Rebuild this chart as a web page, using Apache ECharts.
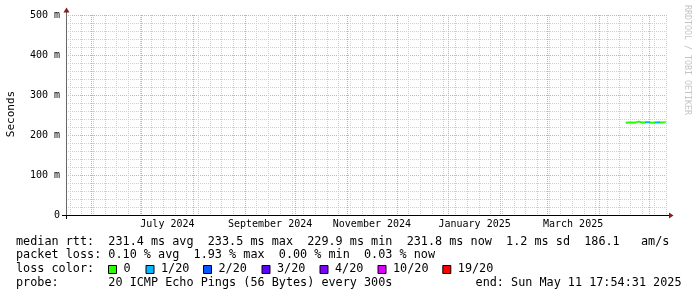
<!DOCTYPE html>
<html>
<head>
<meta charset="utf-8">
<script src="https://cdn.jsdelivr.net/npm/echarts@6/dist/echarts.min.js"></script>
<style>
html,body{margin:0;padding:0;background:#fff;}
#chart{width:697px;height:297px;}
</style>
</head>
<body>
<div id="chart"></div>
<script>
// ---------------- data ----------------
const endTime = '2025-05-11T17:54:31';
const spanDays = 360;
const firstDay = '2025-04-17';
// daily median rtt (ms), Apr 17 .. May 11 2025
const medianRtt = [230.6, 229.9, 231.0, 232.4, 231.2, 230.8, 231.5, 231.0, 233.5, 231.6,
                   230.9, 231.2, 231.8, 231.4, 232.0, 231.1, 230.7, 231.5, 231.3, 232.1,
                   231.6, 231.0, 231.4, 231.9, 231.8];
// daily lost pings (out of 20)
const lossCount = [0,0,0,0,0,0,0,0,0,0,0,0,1,1,1,0,0,0,1,1,1,0,0,0,0];
const yTicks = [0, 100, 200, 300, 400, 500];
const xLabels = ['July 2024', 'September 2024', 'November 2024', 'January 2025', 'March 2025'];
const xLabelDates = ['2024-07-16T12:00:00', '2024-09-16T00:00:00', '2024-11-16T00:00:00', '2025-01-16T12:00:00', '2025-03-16T12:00:00'];
const monthLines = ['2024-06-01','2024-07-01','2024-08-01','2024-09-01','2024-10-01','2024-11-01',
                    '2024-12-01','2025-01-01','2025-02-01','2025-03-01','2025-04-01','2025-05-01'];
const firstSunday = '2024-05-19';
const lossLabels = ['0', '1/20', '2/20', '3/20', '4/20', '10/20', '19/20'];
const lossLevels = [0, 1, 2, 3, 4, 10, 19];
const lossColors = ['#26ff00', '#00b8ff', '#0059ff', '#5e00ff', '#7e00ff', '#dd00ff', '#ff0000'];
const legendRows = [
  'median rtt:  231.4 ms avg  233.5 ms max  229.9 ms min  231.8 ms now  1.2 ms sd  186.1   am/s',
  'packet loss: 0.10 % avg  1.93 % max  0.00 % min  0.03 % now',
  'loss color:',
  'probe:       20 ICMP Echo Pings (56 Bytes) every 300s'
];
const endText = 'end: Sun May 11 17:54:31 2025';
const yTitle = 'Seconds';
const watermark = 'RRDTOOL / TOBI OETIKER';

// ---------------- helpers ----------------
const DAY = 86400000;
const ts = s => Date.parse(s + (s.length === 10 ? 'T00:00:00Z' : 'Z'));
const END = ts(endTime);
const START = END - spanDays * DAY;
const day0 = ts(firstDay);
const lineData = medianRtt.map((v, i) => [day0 + i * DAY, v]);
const labelTimes = xLabelDates.map(ts);

function lossColor(n) {
  let c = lossColors[0];
  for (let k = 0; k < lossLevels.length; k++) if (n >= lossLevels[k]) c = lossColors[k];
  return c;
}
const pieces = lossCount.map((n, i) => ({
  gte: day0 + i * DAY - DAY / 2,
  lt: day0 + i * DAY + DAY / 2,
  color: lossColor(n)
}));
pieces.unshift({lt: day0 - DAY / 2, color: lossColors[0]});
pieces.push({gte: day0 + (lossCount.length - 0.5) * DAY, color: lossColors[0]});

const weekTimes = [];
for (let t = ts(firstSunday); t < END; t += 7 * DAY) weekTimes.push(t);
const monthTimes = monthLines.map(ts);
const yMinor = [];
for (let v = 20; v < 500; v += 20) if (v % 100 !== 0) yMinor.push(v);

const MONO = 'DejaVu Sans Mono';
const minorCol = '#cfcfcf';
const majorCol = '#eea0a0';

// ---------------- layout (positions) ----------------
const rowY = [241.5, 255.3, 269, 282.8];
const boxX = [108, 145.5, 203, 261.5, 319.5, 377.5, 442.3];

const graphics = [];
legendRows.forEach((txt, r) => {
  graphics.push({type: 'text', x: 16, y: rowY[r], style: {text: txt, font: '11.8px "' + MONO + '"', fill: '#000', textVerticalAlign: 'middle'}});
});
graphics.push({type: 'text', x: 681.5, y: rowY[3], style: {text: endText, font: '11.8px "' + MONO + '"', fill: '#000', textAlign: 'right', textVerticalAlign: 'middle'}});
lossLabels.forEach((lab, k) => {
  graphics.push({type: 'rect', shape: {x: boxX[k] + 0.5, y: 265.5, width: 8, height: 8}, style: {fill: lossColors[k], stroke: '#000', lineWidth: 1}});
  graphics.push({type: 'text', x: boxX[k] + 15.5, y: rowY[2], style: {text: lab, font: '11.8px "' + MONO + '"', fill: '#000', textVerticalAlign: 'middle'}});
});
graphics.push({type: 'text', x: 11, y: 114, rotation: Math.PI / 2, style: {text: yTitle, font: '11px "' + MONO + '"', fill: '#000', textAlign: 'center', textVerticalAlign: 'middle'}});
graphics.push({type: 'text', x: 687, y: 5, rotation: -Math.PI / 2, style: {text: watermark, font: '8.3px "' + MONO + '"', fill: '#c4c4c4', textAlign: 'left', textVerticalAlign: 'middle'}});
// axis extensions and arrows
graphics.push({type: 'line', shape: {x1: 62, y1: 215.5, x2: 67, y2: 215.5}, style: {stroke: '#000', lineWidth: 1}});
graphics.push({type: 'line', shape: {x1: 66.5, y1: 215, x2: 66.5, y2: 219}, style: {stroke: '#000', lineWidth: 1}});
graphics.push({type: 'line', shape: {x1: 66.5, y1: 9, x2: 66.5, y2: 16}, style: {stroke: '#666', lineWidth: 1}});
graphics.push({type: 'line', shape: {x1: 666, y1: 215.5, x2: 670, y2: 215.5}, style: {stroke: '#000', lineWidth: 1}});
graphics.push({type: 'polygon', shape: {points: [[673.5, 215.5], [669, 212.5], [669, 218.5]]}, style: {fill: '#8b1a1a'}});
graphics.push({type: 'polygon', shape: {points: [[66.5, 7.5], [63.5, 12.5], [69.5, 12.5]]}, style: {fill: '#8b1a1a'}});

function gridAxis(values, color) {
  return {
    type: 'value', min: START, max: END, position: 'bottom',
    axisLine: {show: false},
    axisTick: {show: false, customValues: values},
    axisLabel: {show: false, customValues: values},
    splitLine: {show: true, lineStyle: {color: color, type: [1, 1], width: 1}}
  };
}

const chart = echarts.init(document.getElementById('chart'), null, {renderer: 'canvas'});
chart.setOption({
  animation: false,
  backgroundColor: '#fff',
  grid: {left: 66, right: 30, top: 15, bottom: 82, containLabel: false},
  xAxis: [gridAxis(weekTimes, minorCol), gridAxis(monthTimes, majorCol), {
    type: 'value', min: START, max: END, position: 'bottom',
    axisLine: {show: true, onZero: false, lineStyle: {color: '#000', width: 1}},
    axisTick: {show: false},
    splitLine: {show: false},
    axisLabel: {
      show: true, margin: 4, customValues: labelTimes,
      formatter: v => { const i = labelTimes.indexOf(v); return i >= 0 ? xLabels[i] : ''; },
      fontFamily: MONO, fontSize: 10, color: '#000'
    }
  }],
  yAxis: [{
    type: 'value', min: 0, max: 500, position: 'left',
    axisLine: {show: false},
    axisTick: {show: false, customValues: yMinor},
    axisLabel: {show: false, customValues: yMinor},
    splitLine: {show: true, lineStyle: {color: minorCol, type: [1, 1], width: 1}}
  }, {
    type: 'value', min: 0, max: 500, interval: 100, position: 'left',
    axisLine: {show: true, onZero: false, lineStyle: {color: '#666', width: 1}},
    axisTick: {show: false, customValues: yTicks},
    axisLabel: {
      show: true, margin: 6, fontFamily: MONO, fontSize: 10, color: '#000',
      customValues: yTicks,
      formatter: v => v === 0 ? '0' : v + ' m'
    },
    splitLine: {show: true, lineStyle: {color: majorCol, type: [1, 1], width: 1}}
  }],
  visualMap: {
    type: 'piecewise', show: false, dimension: 0, seriesIndex: 0, pieces: pieces
  },
  series: [{
    type: 'line', data: lineData, showSymbol: false, z: 5,
    xAxisIndex: 2, yAxisIndex: 1,
    lineStyle: {width: 2}
  }],
  graphic: graphics
});
</script>
</body>
</html>
